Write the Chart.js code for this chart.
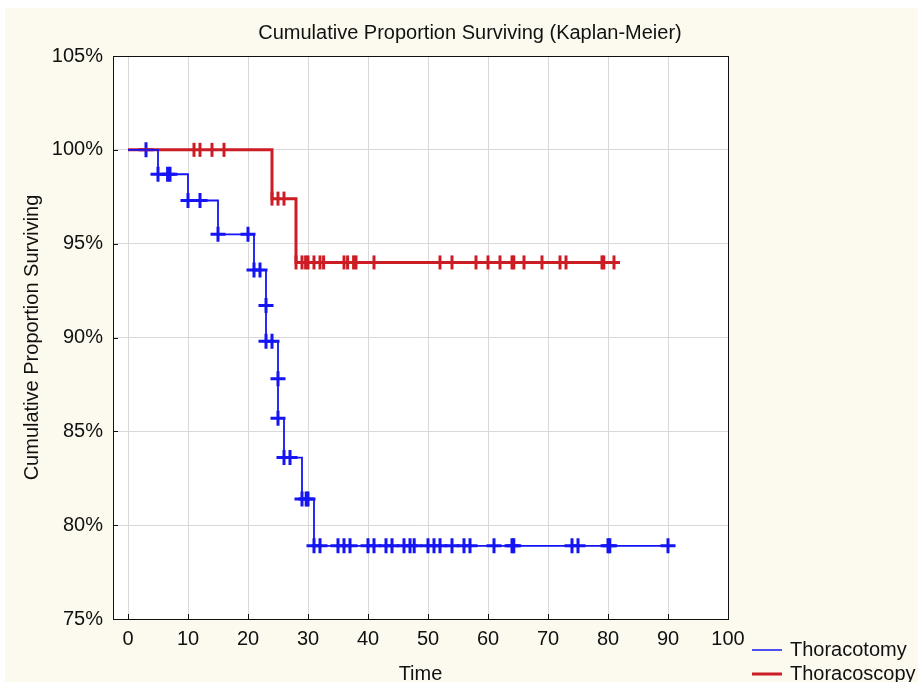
<!DOCTYPE html>
<html>
<head>
<meta charset="utf-8">
<script src="https://cdn.jsdelivr.net/npm/chart.js@4.4.1/dist/chart.umd.min.js"></script>
<style>
  body { margin: 0; background: #fff; }
</style>
</head>
<body>
<canvas id="km" width="918" height="682"></canvas>
<script>
// Kaplan-Meier curves (time, % surviving)
var xTicks = [0, 10, 20, 30, 40, 50, 60, 70, 80, 90, 100];
var yTicks = [75, 80, 85, 90, 95, 100, 105];

var otomyTimes = [0, 5, 10, 15, 21, 23, 25, 26, 29, 31, 90];
var otomySurv  = [100, 98.7, 97.3, 95.5, 93.6, 89.8, 85.7, 83.6, 81.4, 78.9, 78.9];

var oscopyTimes = [0, 24, 28, 82];
var oscopySurv  = [100, 97.4, 94.0, 94.0];

// censored cases
var otomyCensTimes = [3, 5, 6.6, 7, 10, 12, 15, 20, 21, 22, 23, 23, 24, 25, 25, 26, 27, 29, 29.7, 30,
  31, 32, 35, 36, 37, 40, 41, 43, 44, 46, 47, 47.7, 50, 51, 52, 54, 56, 57, 61, 64, 64.3, 74, 75, 80, 80.3, 90];
var otomyCensSurv = [100, 98.7, 98.7, 98.7, 97.3, 97.3, 95.5, 95.5, 93.6, 93.6, 91.7, 89.8, 89.8, 87.8, 85.7, 83.6, 83.6, 81.4, 81.4, 81.4,
  78.9, 78.9, 78.9, 78.9, 78.9, 78.9, 78.9, 78.9, 78.9, 78.9, 78.9, 78.9, 78.9, 78.9, 78.9, 78.9, 78.9, 78.9, 78.9, 78.9, 78.9, 78.9, 78.9, 78.9, 78.9, 78.9];

var oscopyCensTimes = [11, 12, 14, 16, 24, 25, 26, 28, 29, 29.6, 30, 31, 32, 32.6, 36, 36.6, 37.6, 38, 41,
  52, 54, 58, 60, 62, 64, 64.3, 66, 69, 72, 73, 79, 79.3, 81];
var oscopyCensSurv = [100, 100, 100, 100, 97.4, 97.4, 97.4, 94, 94, 94, 94, 94, 94, 94, 94, 94, 94, 94, 94,
  94, 94, 94, 94, 94, 94, 94, 94, 94, 94, 94, 94, 94, 94];

var blue = '#1414f5';
var red = '#cc1c24';
var font = "'Liberation Sans', Arial, sans-serif";

function pts(xs, ys) {
  return xs.map(function (x, i) { return { x: x, y: ys[i] }; });
}

var bgPlugin = {
  id: 'bg',
  beforeDraw: function (chart) {
    var ctx = chart.ctx, a = chart.chartArea;
    ctx.save();
    ctx.fillStyle = '#ffffff';
    ctx.fillRect(0, 0, chart.width, chart.height);
    ctx.fillStyle = '#fcfaee';
    ctx.fillRect(5, 8, chart.width - 5, chart.height - 8);
    ctx.fillStyle = '#ffffff';
    ctx.fillRect(a.left, a.top, a.right - a.left, a.bottom - a.top);
    ctx.restore();
  },
  afterDraw: function (chart) {
    var ctx = chart.ctx, a = chart.chartArea;
    var xs = chart.scales.x, ys = chart.scales.y;
    ctx.save();
    ctx.strokeStyle = '#111';
    ctx.lineWidth = 1;
    ctx.strokeRect(Math.round(a.left) + 0.5, Math.round(a.top) + 0.5,
      Math.round(a.right - a.left), Math.round(a.bottom - a.top));
    // inner tick marks
    ctx.beginPath();
    xTicks.forEach(function (v) {
      var px = Math.round(xs.getPixelForValue(v)) + 0.5;
      ctx.moveTo(px, a.bottom);
      ctx.lineTo(px, a.bottom - 5);
    });
    yTicks.forEach(function (v) {
      var py = Math.round(ys.getPixelForValue(v)) + 0.5;
      ctx.moveTo(a.left, py);
      ctx.lineTo(a.left + 5, py);
    });
    ctx.stroke();

    // legend, bottom right outside the plot
    ctx.font = '20px ' + font;
    ctx.textBaseline = 'middle';
    ctx.fillStyle = '#111';
    [0, 1].forEach(function (i) {
      var ds = chart.data.datasets[i];
      var y = a.bottom + 31 + i * 24;
      ctx.strokeStyle = ds.borderColor;
      ctx.lineWidth = i === 0 ? 1.5 : 3;
      ctx.beginPath();
      ctx.moveTo(a.right + 24, y);
      ctx.lineTo(a.right + 54, y);
      ctx.stroke();
      ctx.fillText(ds.label, a.right + 62, y);
    });
    ctx.restore();
  }
};

var ctx = document.getElementById('km').getContext('2d');
var kmChart = new Chart(ctx, {
  type: 'line',
  data: {
    datasets: [
      {
        label: 'Thoracotomy',
        data: pts(otomyTimes, otomySurv),
        borderColor: blue,
        borderWidth: 1.8,
        stepped: true,
        pointRadius: 0,
        fill: false
      },
      {
        label: 'Thoracoscopy',
        data: pts(oscopyTimes, oscopySurv),
        borderColor: red,
        borderWidth: 3,
        stepped: true,
        pointRadius: 0,
        fill: false
      },
      {
        label: 'Thoracotomy censored',
        type: 'scatter',
        data: pts(otomyCensTimes, otomyCensSurv),
        borderColor: blue,
        backgroundColor: blue,
        pointStyle: 'cross',
        pointRadius: 7.5,
        borderWidth: 3
      },
      {
        label: 'Thoracoscopy censored',
        type: 'scatter',
        data: pts(oscopyCensTimes, oscopyCensSurv),
        borderColor: red,
        backgroundColor: red,
        pointStyle: 'line',
        rotation: 90,
        pointRadius: 7,
        borderWidth: 3
      }
    ]
  },
  options: {
    responsive: false,
    animation: false,
    layout: { padding: { left: 22, right: 0, top: 0, bottom: 0 } },
    plugins: {
      legend: { display: false },
      tooltip: { enabled: false },
      title: {
        display: true,
        text: 'Cumulative Proportion Surviving (Kaplan-Meier)',
        color: '#111',
        font: { family: font, size: 20, weight: 'normal' },
        padding: { top: 21, bottom: 11 }
      }
    },
    scales: {
      x: {
        type: 'linear',
        min: -2.5,
        max: 100,
        afterBuildTicks: function (s) { s.ticks = xTicks.map(function (v) { return { value: v }; }); },
        afterFit: function (s) { s.height = 63; },
        grid: { color: '#d9d9d9', drawTicks: false },
        border: { display: false },
        ticks: { color: '#111', padding: 8, font: { family: font, size: 20 } },
        title: { display: true, text: 'Time', color: '#111', padding: 0,
          font: { family: font, size: 20, lineHeight: 0.75 } }
      },
      y: {
        type: 'linear',
        min: 75,
        max: 105,
        afterBuildTicks: function (s) { s.ticks = yTicks.map(function (v) { return { value: v }; }); },
        afterFit: function (s) { s.width = 91; },
        grid: { color: '#d9d9d9', drawTicks: false },
        border: { display: false },
        ticks: { color: '#111', padding: 10, font: { family: font, size: 20 },
          callback: function (v) { return v + '%'; } },
        title: { display: true, text: 'Cumulative Proportion Surviving', color: '#111', padding: 0,
          font: { family: font, size: 20, lineHeight: 1 } }
      },
      yRight: {
        type: 'linear',
        position: 'right',
        grid: { display: false, drawTicks: false },
        border: { display: false },
        ticks: { display: false },
        afterFit: function (s) { s.width = 190; }
      }
    }
  },
  plugins: [bgPlugin]
});
</script>
</body>
</html>
